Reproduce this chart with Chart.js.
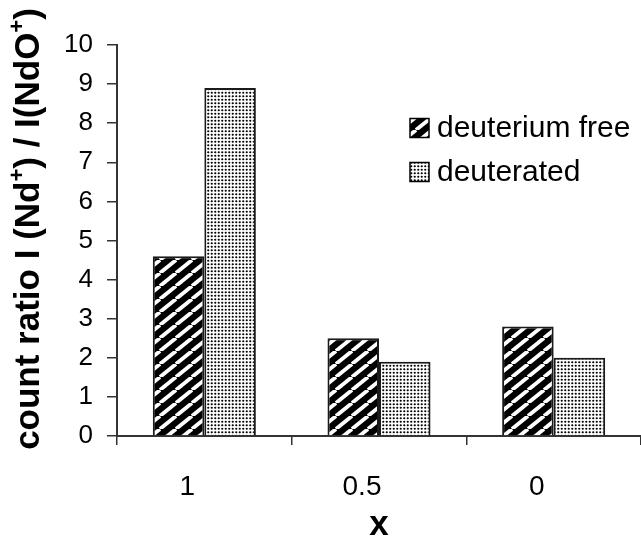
<!DOCTYPE html>
<html>
<head>
<meta charset="utf-8">
<script src="https://cdn.jsdelivr.net/npm/chart.js@4.4.1/dist/chart.umd.min.js"></script>
<style>
  body { margin: 0; background: #fff; }
  #wrap { width: 641px; height: 543px; }
</style>
</head>
<body>
<div id="wrap"><canvas id="chart" width="641" height="543"></canvas></div>
<script>
// values
const categories = ['1', '0.5', '0'];
const deuteriumFree = [4.6, 2.5, 2.8];
const deuterated = [8.9, 1.9, 2.0];
const seriesNames = ['deuterium free', 'deuterated'];

const FONT = "'Liberation Sans', Arial, sans-serif";

// black with white diagonal stripes
function stripePattern() {
    const c = document.createElement('canvas');
    c.width = 16; c.height = 13;
    const g = c.getContext('2d');
    g.fillStyle = '#000';
    g.fillRect(0, 0, 16, 13);
    g.strokeStyle = '#fff';
    g.lineWidth = 3.8;
    [-16, 0, 16].forEach(dx => {
        g.beginPath();
        g.moveTo(dx, 13);
        g.lineTo(dx + 16, 0);
        g.stroke();
    });
    return g.createPattern(c, 'repeat');
}

// white with fine black dots
function dotPattern() {
    const c = document.createElement('canvas');
    c.width = 7; c.height = 7;
    const g = c.getContext('2d');
    g.fillStyle = '#fff';
    g.fillRect(0, 0, 7, 7);
    g.fillStyle = '#000';
    [[1.75, 1.75], [5.25, 1.75], [1.75, 5.25], [5.25, 5.25]].forEach(p => {
        g.beginPath();
        g.arc(p[0], p[1], 1.1, 0, Math.PI * 2);
        g.fill();
    });
    return g.createPattern(c, 'repeat');
}

// rotated y title with superscripts
const yTitle = {
    id: 'yTitle',
    afterDraw(chart) {
        const ctx = chart.ctx;
        const big = 'bold 35px ' + FONT;
        const small = 'bold 22px ' + FONT;
        const parts = [
            ['count ratio I (Nd', false], ['+', true], [') / I(NdO', false], ['+', true], [')', false]
        ];
        ctx.save();
        let total = 0;
        parts.forEach(p => { ctx.font = p[1] ? small : big; total += ctx.measureText(p[0]).width; });
        ctx.translate(39, 229);
        ctx.rotate(-Math.PI / 2);
        ctx.fillStyle = '#000';
        ctx.textBaseline = 'alphabetic';
        let x = -total / 2;
        parts.forEach(p => {
            ctx.font = p[1] ? small : big;
            ctx.fillText(p[0], x, p[1] ? -15 : 0);
            x += ctx.measureText(p[0]).width;
        });
        ctx.restore();
    }
};

// legend on the right, inside the plot
const boxLegend = {
    id: 'boxLegend',
    afterDraw(chart) {
        const ctx = chart.ctx;
        ctx.save();
        ctx.font = '30px ' + FONT;
        ctx.textBaseline = 'middle';
        chart.data.datasets.forEach((ds, i) => {
            const y = 128 + i * 44;
            ctx.fillStyle = ds.backgroundColor;
            ctx.fillRect(410, y - 9.5, 19, 19);
            ctx.strokeStyle = '#000';
            ctx.lineWidth = 1.5;
            ctx.strokeRect(410, y - 9.5, 19, 19);
            ctx.fillStyle = '#000';
            ctx.fillText(ds.label, 437, y + 1);
        });
        ctx.restore();
    }
};

const ctx = document.getElementById('chart').getContext('2d');
new Chart(ctx, {
    type: 'bar',
    data: {
        labels: categories,
        datasets: [{
            label: seriesNames[0],
            data: deuteriumFree,
            backgroundColor: stripePattern(),
            borderColor: '#1a1a1a',
            borderWidth: 2
        }, {
            label: seriesNames[1],
            data: deuterated,
            backgroundColor: dotPattern(),
            borderColor: '#1a1a1a',
            borderWidth: 2
        }]
    },
    options: {
        responsive: false,
        animation: false,
        devicePixelRatio: 1,
        layout: { padding: { top: 45, left: 0, right: 0, bottom: 0 } },
        datasets: { bar: { categoryPercentage: 0.59, barPercentage: 1.0 } },
        plugins: {
            legend: { display: false },
            tooltip: { enabled: false }
        },
        scales: {
            x: {
                afterFit(scale) { scale.height = 107; },
                grid: { drawOnChartArea: false, drawTicks: true, tickLength: 9, color: '#333', lineWidth: 1.5 },
                border: { display: true, color: '#333', width: 2 },
                ticks: { color: '#000', font: { family: FONT, size: 28 }, padding: 25, labelOffset: -17 },
                title: { display: true, text: 'x', color: '#000', font: { family: FONT, size: 35, weight: 'bold', lineHeight: 1 }, padding: 0 }
            },
            y: {
                min: 0,
                max: 10,
                afterFit(scale) { scale.width = 117; },
                grid: { drawOnChartArea: false, drawTicks: true, tickLength: 10, color: '#333', lineWidth: 1.5 },
                border: { display: true, color: '#333', width: 2 },
                ticks: { stepSize: 1, color: '#000', font: { family: FONT, size: 26 }, padding: 14 }
            }
        }
    },
    plugins: [yTitle, boxLegend]
});
</script>
</body>
</html>
